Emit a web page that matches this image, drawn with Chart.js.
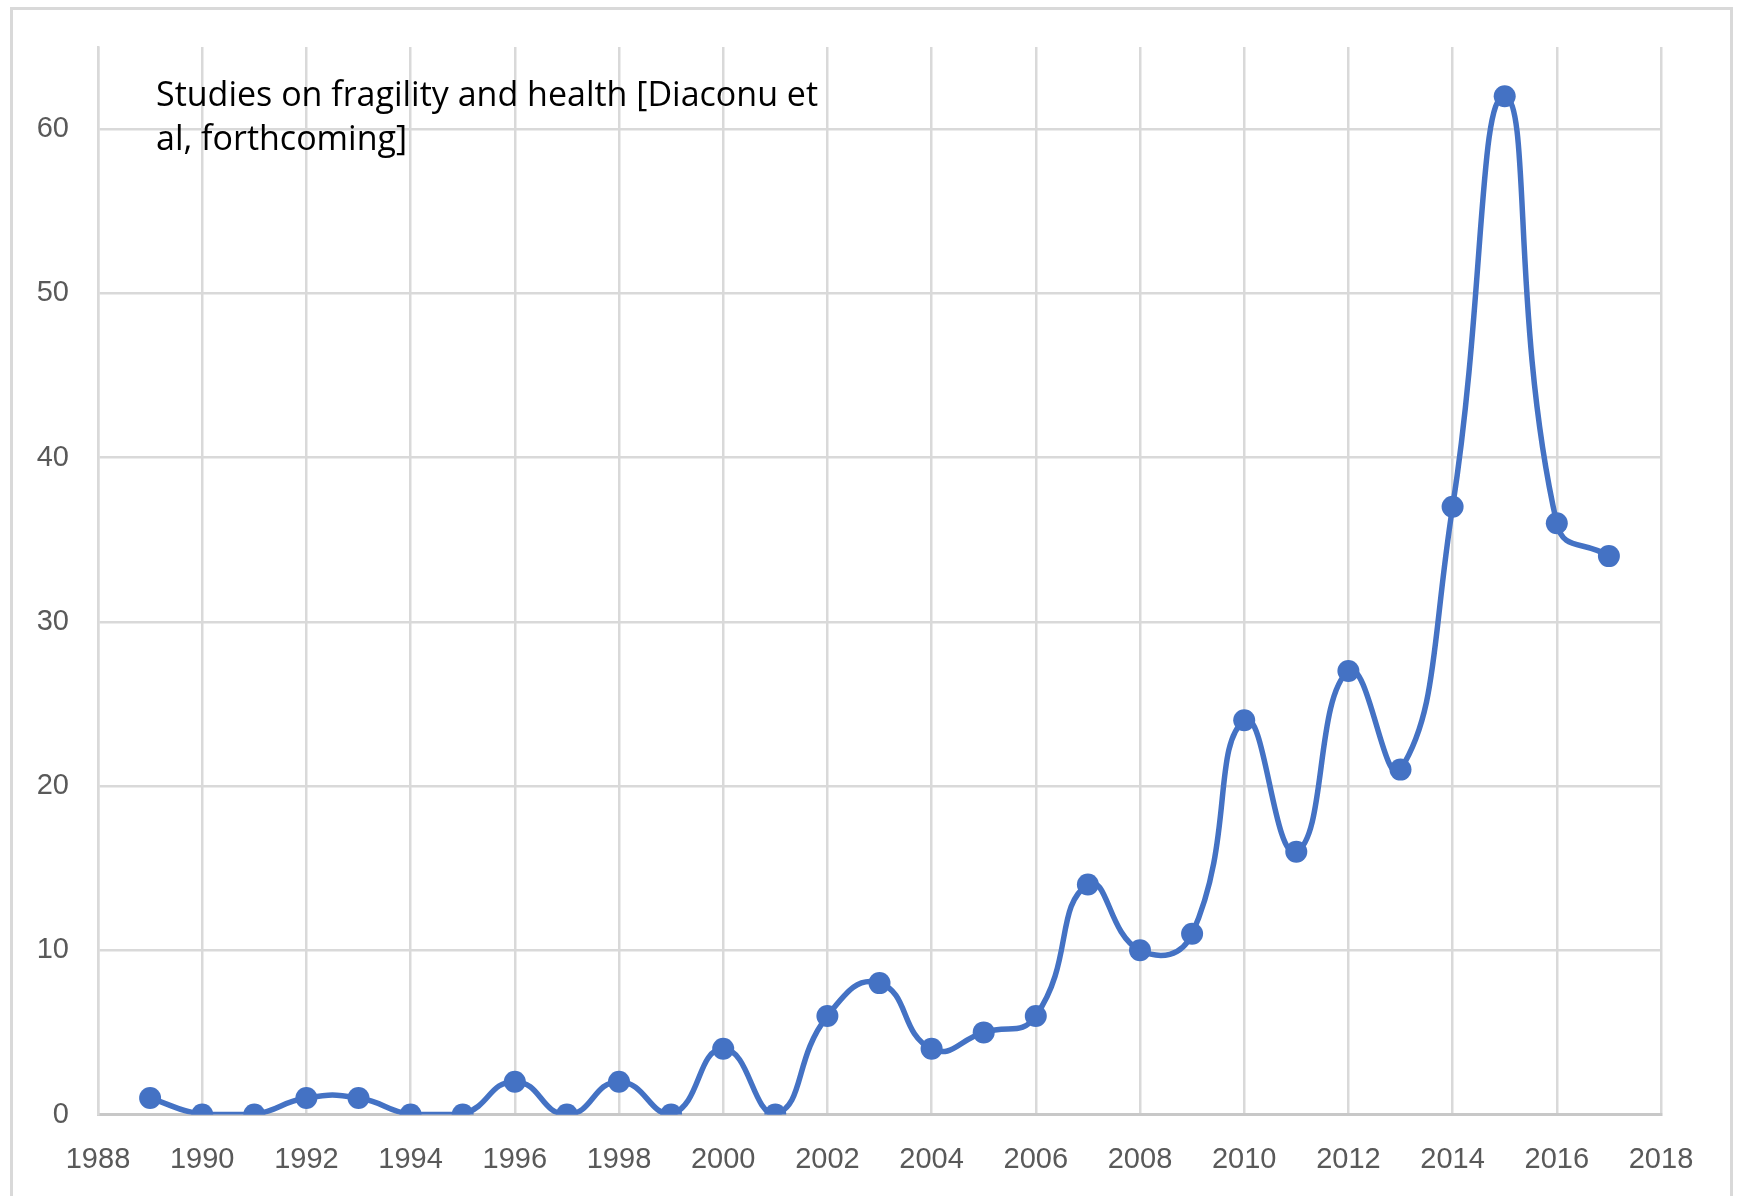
<!DOCTYPE html>
<html>
<head>
<meta charset="utf-8">
<script src="https://cdn.jsdelivr.net/npm/chart.js@4.4.1/dist/chart.umd.min.js"></script>
<style>
  html, body { margin: 0; padding: 0; background: #fff; }
  #wrap { position: relative; width: 1739px; height: 1196px; }
</style>
</head>
<body>
<div id="wrap"><canvas id="studiesChart"></canvas></div>
<script>
// data
const years = [1989, 1990, 1991, 1992, 1993, 1994, 1995, 1996, 1997, 1998,
  1999, 2000, 2001, 2002, 2003, 2004, 2005, 2006, 2007, 2008,
  2009, 2010, 2011, 2012, 2013, 2014, 2015, 2016, 2017];
const studies = [1, 0, 0, 1, 1, 0, 0, 2, 0, 2,
  0, 4, 0, 6, 8, 4, 5, 6, 14, 10,
  11, 24, 16, 27, 21, 37, 62, 36, 34];
const titleLines = ['Studies on fragility and health [Diaconu et', 'al, forthcoming]'];
const yTicks = [0, 10, 20, 30, 40, 50, 60];

const blue = '#4472C4';
const gridGray = '#d9d9d9';
const labelGray = '#595959';
const fontFam = '"Liberation Sans", Arial, sans-serif';

// outer frame + white background
const framePlugin = {
  id: 'frame',
  beforeDraw(chart) {
    const c = chart.ctx;
    c.save();
    c.fillStyle = '#fff';
    c.fillRect(0, 0, chart.width, chart.height);
    c.strokeStyle = gridGray;
    c.lineWidth = 3;
    c.strokeRect(11.5, 8.5, 1720, 1200);
    c.restore();
  }
};

// text box in the top left of the plot
const noteBox = {
  id: 'noteBox',
  afterDraw(chart) {
    const c = chart.ctx;
    c.save();
    c.font = '34px "Open Sans", ' + fontFam;
    c.fillStyle = '#000';
    c.textBaseline = 'alphabetic';
    titleLines.forEach((t, i) => c.fillText(t, 156, 106 + i * 44));
    c.restore();
  }
};

new Chart(document.getElementById('studiesChart'), {
  type: 'line',
  data: {
    datasets: [{
      data: years.map((y, i) => ({ x: y, y: studies[i] })),
      borderColor: blue,
      backgroundColor: blue,
      borderWidth: 5.5,
      tension: 0.5,
      pointRadius: 11,
      pointBorderWidth: 0,
      pointBackgroundColor: blue,
      fill: false
    }]
  },
  options: {
    responsive: true,
    maintainAspectRatio: false,
    animation: false,
    layout: { padding: { top: 47, right: 78, left: 0, bottom: 0 } },
    plugins: { legend: { display: false }, tooltip: { enabled: false } },
    scales: {
      x: {
        type: 'linear',
        min: 1988,
        max: 2018,
        afterFit: s => { s.height = 81.5; },
        grid: { color: gridGray, lineWidth: 2.5, drawTicks: false },
        border: { color: '#c8c8c8', width: 3 },
        ticks: {
          stepSize: 2,
          padding: 28,
          color: labelGray,
          font: { family: fontFam, size: 29 },
          maxRotation: 0,
          callback: v => String(v)
        }
      },
      y: {
        min: 0,
        max: 65,
        afterFit: s => { s.width = 98; },
        afterBuildTicks: s => { s.ticks = s.ticks.filter(t => yTicks.includes(t.value)); },
        grid: { color: gridGray, lineWidth: 2.5, drawTicks: false },
        border: { color: gridGray, width: 2.5 },
        ticks: {
          stepSize: 10,
          padding: 29,
          color: labelGray,
          font: { family: fontFam, size: 29 }
        }
      }
    }
  },
  plugins: [framePlugin, noteBox]
});
</script>
</body>
</html>
